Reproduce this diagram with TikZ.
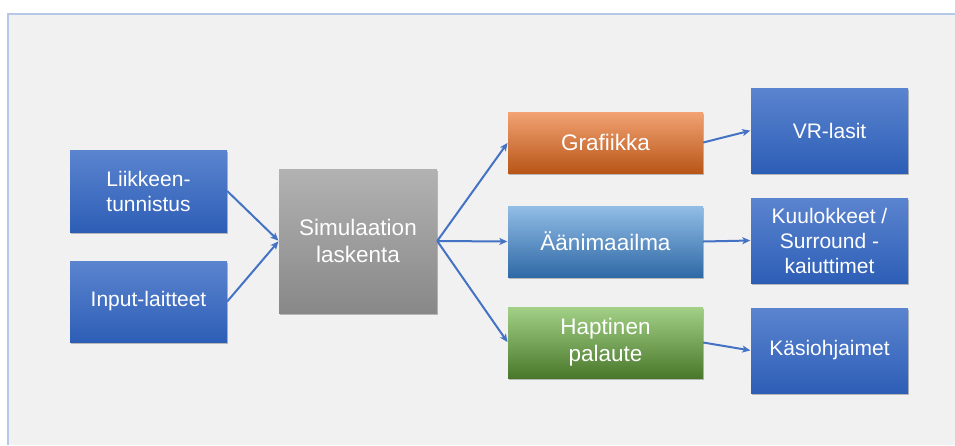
\documentclass[tikz,border=0pt]{standalone}
\usepackage{fontspec}
\setmainfont{Liberation Sans}
\usetikzlibrary{shadows,arrows.meta}
\definecolor{pagebg}{HTML}{F1F1F1}
\definecolor{framecol}{HTML}{B6C8E8}
\definecolor{linkcol}{HTML}{4472C4}
\definecolor{blueT}{HTML}{5B84CF}
\definecolor{blueM}{HTML}{3F6FCA}
\definecolor{blueB}{HTML}{2D5EB6}
\definecolor{grayT}{HTML}{B2B2B2}
\definecolor{grayB}{HTML}{888888}
\definecolor{orT}{HTML}{F2A273}
\definecolor{orM}{HTML}{EC7C32}
\definecolor{orB}{HTML}{B85618}
\definecolor{lbT}{HTML}{92BDE6}
\definecolor{lbM}{HTML}{5B9BD5}
\definecolor{lbB}{HTML}{2F69A6}
\definecolor{grT}{HTML}{A2D086}
\definecolor{grM}{HTML}{78B446}
\definecolor{grB}{HTML}{4A782B}
\tikzset{
  x=1pt, y=-1pt,
  boxbase/.style={rectangle, inner sep=0pt, align=center, text=white,
    font=\fontsize{21}{25}\selectfont,
    drop shadow={shadow xshift=0.5pt, shadow yshift=-2pt, opacity=0.35, fill=black!70}},
  bluebox/.style={boxbase, top color=blueT, middle color=blueM, bottom color=blueB},
  graybox/.style={boxbase, top color=grayT, bottom color=grayB,
    font=\fontsize{22.5}{27}\selectfont},
  orangebox/.style={boxbase, top color=orT, middle color=orM, bottom color=orB,
    font=\fontsize{22.5}{27}\selectfont},
  lightbox/.style={boxbase, top color=lbT, middle color=lbM, bottom color=lbB,
    font=\fontsize{22.5}{27}\selectfont},
  greenbox/.style={boxbase, top color=grT, middle color=grM, bottom color=grB,
    font=\fontsize{22.5}{27}\selectfont},
  link/.style={draw=linkcol, line width=2pt,
    -{Stealth[length=8pt, width=7pt, inset=2pt]}, shorten >=0.5pt},
}
\newcommand{\boxat}[6]{% style, name, x1, y1, x2, y2 ... text given after
  \node[#1, minimum width=#5-#3, minimum height=#6-#4] (#2) at ({(#3+#5)/2},{(#4+#6)/2})}
\begin{document}
\begin{tikzpicture}
  \useasboundingbox (0,0) rectangle (955,445);
  \fill[white] (0,0) rectangle (955,445);
  % panel background and its border
  \fill[pagebg] (8,14) rectangle (955,445);
  \draw[framecol, line width=2pt] (8,445) -- (8,14) -- (955,14);

  % inputs
  \boxat{bluebox}{liike}{70}{150}{227}{232} {Liikkeen-\\tunnistus};
  \boxat{bluebox}{input}{70}{261}{227}{342} {Input-laitteet};
  % simulation
  \boxat{graybox}{sim}{279}{169}{437}{313} {Simulaation\\laskenta};
  % outputs
  \boxat{orangebox}{graf}{508}{112}{703}{173} {Grafiikka};
  \boxat{lightbox}{aani}{508}{206}{703}{277} {Äänimaailma};
  \boxat{greenbox}{hapt}{508}{307}{703}{378} {Haptinen\\palaute};
  % devices
  \boxat{bluebox}{vr}{751}{88}{908}{173} {VR-lasit};
  \boxat{bluebox}{kuul}{751}{198}{908}{283} {Kuulokkeet /\\Surround -\\kaiuttimet};
  \boxat{bluebox}{kasi}{751}{308}{908}{393} {Käsiohjaimet};

  % connectors
  \draw[link] (liike.east) -- (sim.west);
  \draw[link] (input.east) -- (sim.west);
  \draw[link] (sim.east) -- (graf.west);
  \draw[link] (sim.east) -- (aani.west);
  \draw[link] (sim.east) -- (hapt.west);
  \draw[link] (graf.east) -- (vr.west);
  \draw[link] (aani.east) -- (kuul.west);
  \draw[link] (hapt.east) -- (kasi.west);
\end{tikzpicture}
\end{document}
